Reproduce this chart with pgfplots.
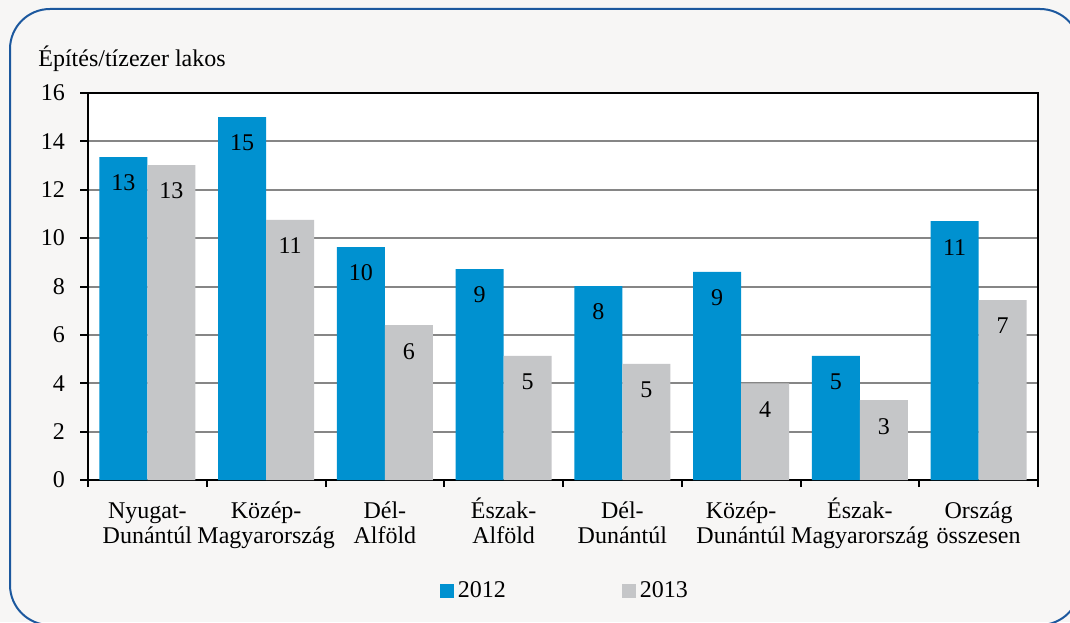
\documentclass[border=0pt]{standalone}
\usepackage{pgfplots}
\pgfplotsset{compat=1.18}
\usepackage{fontspec}
\setmainfont{Liberation Serif}

\definecolor{bg}{RGB}{247,246,245}
\definecolor{frameblue}{RGB}{28,88,158}
\definecolor{bar12}{RGB}{0,145,208}
\definecolor{bar13}{RGB}{197,198,200}
\definecolor{gridgray}{RGB}{134,134,134}
\newcommand{\tl}{\rule{0pt}{11.5pt}}

\begin{document}
\begin{tikzpicture}
\useasboundingbox (0,0) rectangle (535pt,311pt);
\clip (0,0) rectangle (535pt,311pt);
\fill[bg] (0,0) rectangle (535pt,311pt);
\draw[frameblue, line width=1pt, rounded corners=20pt] (5pt,-1.5pt) rectangle (540pt,306.5pt);
\node[anchor=base west, inner sep=0pt, font=\fontsize{12}{13}\selectfont] at (19pt,277.5pt) {Építés/tízezer lakos};

\begin{axis}[
  at={(44pt,71pt)}, anchor=south west,
  scale only axis, width=475pt, height=193.5pt,
  axis background/.style={fill=white},
  axis line style={black, line width=1pt},
  ybar=0pt, bar width=0.405,
  xmin=-0.5, xmax=7.5,
  ymin=0, ymax=16,
  xtick={0,...,7},
  xticklabels={{\tl Nyugat-\\Dunántúl},{\tl Közép-\\Magyarország},{\tl Dél-\\Alföld},{\tl Észak-\\Alföld},{\tl Dél-\\Dunántúl},{\tl Közép-\\Dunántúl},{\tl Észak-\\Magyarország},{\tl Ország\\összesen}},
  minor xtick={-0.5,0.5,...,7.5},
  ytick={0,2,...,16},
  tick pos=left, tick align=outside,
  major x tick style={draw=none},
  tick style={black, line width=1pt},
  major tick length=4pt, minor tick length=3.5pt,
  ymajorgrids, grid style={gridgray, line width=1pt},
  /pgf/number format/assume math mode=true,
  tick label style={font=\fontsize{12}{12.5}\selectfont},
  yticklabel style={xshift=-4pt},
  xticklabel style={align=center, anchor=north, yshift=0pt},
  nodes near coords={\pgfmathprintnumber[fixed,precision=0]{\pgfplotspointmeta}},
  every node near coord/.append style={anchor=center, yshift=-13pt, font=\fontsize{12}{13}\selectfont, black},
  legend columns=2,
  legend style={draw=none, fill=none, at={(0.503,-0.287)}, anchor=center,
    font=\fontsize{12}{13}\selectfont,
    /tikz/every even column/.append style={column sep=56pt}},
  legend image code/.code={\fill[#1] (0pt,-3.5pt) rectangle (7pt,3.5pt);},
]
\addplot[fill=bar12, draw=none] coordinates {(0,13.35) (1,15.0) (2,9.63) (3,8.72) (4,8.02) (5,8.6) (6,5.13) (7,10.7)};
\addplot[fill=bar13, draw=none] coordinates {(0,13.02) (1,10.75) (2,6.4) (3,5.13) (4,4.8) (5,4.0) (6,3.3) (7,7.44)};
\legend{2012, 2013}
\end{axis}
\end{tikzpicture}
\end{document}
